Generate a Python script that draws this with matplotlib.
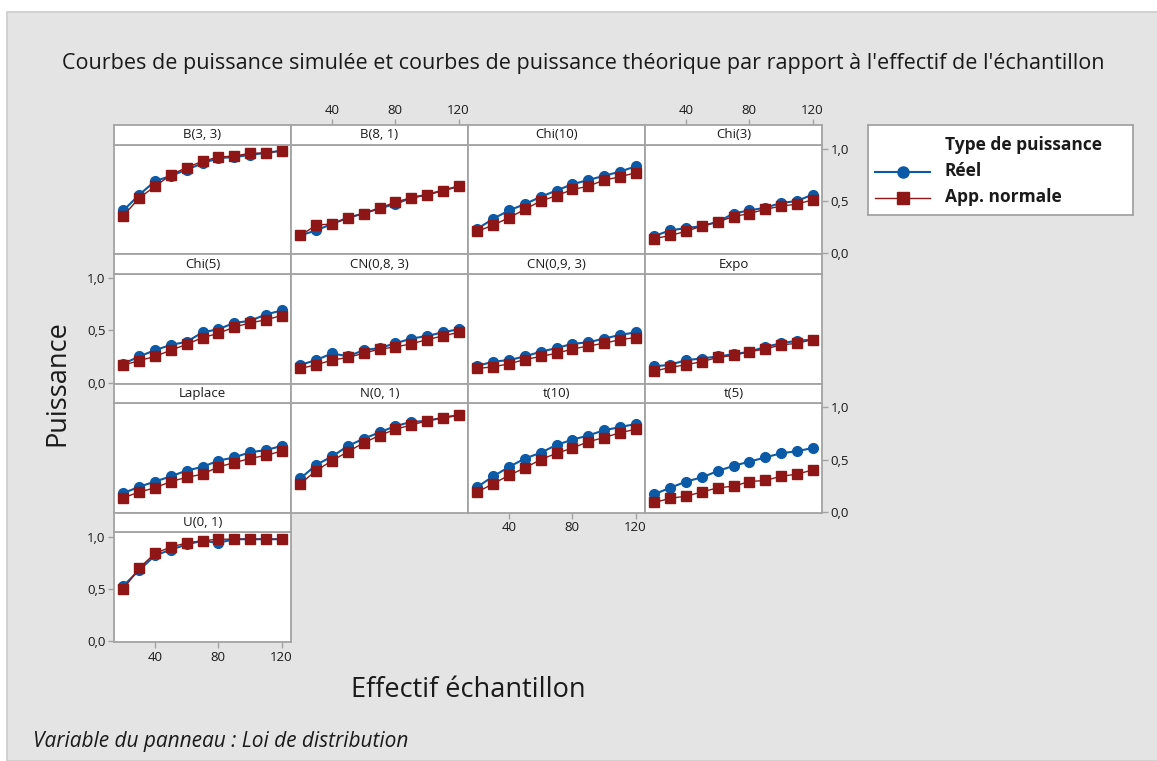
import matplotlib
matplotlib.use("Agg")
import matplotlib.pyplot as plt
from matplotlib.patches import Rectangle
from matplotlib.ticker import FuncFormatter

# sample sizes (effectif)
n = [20, 30, 40, 50, 60, 70, 80, 90, 100, 110, 120]

# power curves: simulated ("Réel") and normal approximation
b33_reel = [0.41, 0.56, 0.69, 0.74, 0.80, 0.86, 0.91, 0.92, 0.94, 0.96, 0.98]
b33_norm = [0.36, 0.53, 0.64, 0.75, 0.82, 0.88, 0.92, 0.93, 0.955, 0.96, 0.98]
b81_reel = [0.17, 0.22, 0.28, 0.34, 0.38, 0.43, 0.47, 0.53, 0.56, 0.60, 0.64]
b81_norm = [0.17, 0.27, 0.28, 0.34, 0.38, 0.43, 0.49, 0.53, 0.56, 0.60, 0.64]
chi10_reel = [0.235, 0.33, 0.41, 0.47, 0.54, 0.60, 0.66, 0.70, 0.74, 0.78, 0.83]
chi10_norm = [0.21, 0.27, 0.34, 0.42, 0.50, 0.55, 0.61, 0.64, 0.70, 0.73, 0.77]
chi3_reel = [0.165, 0.22, 0.24, 0.26, 0.30, 0.38, 0.41, 0.435, 0.48, 0.50, 0.56]
chi3_norm = [0.14, 0.17, 0.21, 0.26, 0.30, 0.35, 0.38, 0.42, 0.45, 0.47, 0.51]
chi5_reel = [0.18, 0.25, 0.31, 0.36, 0.39, 0.48, 0.51, 0.57, 0.59, 0.65, 0.69]
chi5_norm = [0.167, 0.21, 0.25, 0.31, 0.365, 0.43, 0.47, 0.53, 0.57, 0.60, 0.64]
cn83_reel = [0.17, 0.215, 0.28, 0.25, 0.31, 0.33, 0.375, 0.42, 0.445, 0.48, 0.51]
cn83_norm = [0.135, 0.17, 0.215, 0.24, 0.28, 0.32, 0.34, 0.37, 0.41, 0.445, 0.48]
cn93_reel = [0.16, 0.20, 0.215, 0.25, 0.295, 0.33, 0.37, 0.385, 0.42, 0.455, 0.48]
cn93_norm = [0.135, 0.15, 0.18, 0.22, 0.25, 0.28, 0.32, 0.35, 0.375, 0.41, 0.43]
expo_reel = [0.155, 0.17, 0.215, 0.23, 0.25, 0.27, 0.295, 0.34, 0.375, 0.40, 0.41]
expo_norm = [0.11, 0.145, 0.17, 0.20, 0.24, 0.26, 0.295, 0.32, 0.36, 0.375, 0.41]
lap_reel = [0.18, 0.24, 0.29, 0.34, 0.395, 0.43, 0.49, 0.52, 0.57, 0.59, 0.63]
lap_norm = [0.135, 0.19, 0.23, 0.29, 0.33, 0.36, 0.43, 0.47, 0.51, 0.54, 0.58]
n01_reel = [0.32, 0.45, 0.53, 0.63, 0.70, 0.76, 0.82, 0.86, 0.87, 0.90, 0.925]
n01_norm = [0.27, 0.395, 0.49, 0.575, 0.66, 0.73, 0.79, 0.83, 0.87, 0.90, 0.925]
t10_reel = [0.24, 0.34, 0.43, 0.51, 0.565, 0.64, 0.69, 0.73, 0.78, 0.81, 0.84]
t10_norm = [0.19, 0.27, 0.35, 0.42, 0.50, 0.56, 0.61, 0.67, 0.71, 0.755, 0.79]
t5_reel = [0.17, 0.23, 0.29, 0.33, 0.39, 0.44, 0.48, 0.52, 0.56, 0.58, 0.61]
t5_norm = [0.09, 0.13, 0.15, 0.19, 0.23, 0.245, 0.29, 0.30, 0.34, 0.36, 0.40]
u01_reel = [0.53, 0.68, 0.82, 0.875, 0.925, 0.96, 0.94, 0.975, 0.975, 0.975, 0.975]
u01_norm = [0.50, 0.70, 0.84, 0.90, 0.94, 0.96, 0.975, 0.975, 0.975, 0.975, 0.975]

names = ["B(3, 3)", "B(8, 1)", "Chi(10)", "Chi(3)", "Chi(5)", "CN(0,8, 3)",
         "CN(0,9, 3)", "Expo", "Laplace", "N(0, 1)", "t(10)", "t(5)", "U(0, 1)"]
reel = [b33_reel, b81_reel, chi10_reel, chi3_reel, chi5_reel, cn83_reel,
        cn93_reel, expo_reel, lap_reel, n01_reel, t10_reel, t5_reel, u01_reel]
norm = [b33_norm, b81_norm, chi10_norm, chi3_norm, chi5_norm, cn83_norm,
        cn93_norm, expo_norm, lap_norm, n01_norm, t10_norm, t5_norm, u01_norm]

x_ticks = [40, 80, 120]
y_ticks = [0.0, 0.5, 1.0]

BLUE = "#0b5aa8"
RED = "#8e1616"
GRID = "#a3a3a3"
TXT = "#1a1a1a"

plt.rcParams["font.family"] = ["Open Sans", "DejaVu Sans"]

W, H = 1157, 761
fig = plt.figure(figsize=(W / 100, H / 100), dpi=100, facecolor="white")


def px(left, top, w, h):
    return [left / W, 1 - (top + h) / H, w / W, h / H]


# grey window background
fig.patches.append(Rectangle((7 / W, 0), 1, 1 - 12 / H, transform=fig.transFigure,
                             facecolor="#e4e4e4", edgecolor="#cccccc", lw=1.2, zorder=-10))

comma = FuncFormatter(lambda v, p: f"{v:.1f}".replace(".", ","))

col_left, col_w = 114, 177
row_top, row_h, strip_h = 125, 129.3, 19.5

for i, name in enumerate(names):
    r, c = divmod(i, 4)
    left = col_left + c * col_w
    top = row_top + r * row_h
    ax = fig.add_axes(px(left, top + strip_h, col_w, row_h - strip_h))
    sx = fig.add_axes(px(left, top, col_w, strip_h))

    ax.plot(n, reel[i], color=BLUE, lw=1.5, marker="o", ms=7, zorder=3)
    ax.plot(n, norm[i], color=RED, lw=1.0, marker="s", ms=7.5, zorder=4)
    ax.set_xlim(14, 126)
    ax.set_ylim(-0.01, 1.04)

    sx.set_xlim(14, 126)
    sx.set_ylim(0, 1)
    sx.set_yticks([])
    sx.text(0.5, 0.5, name, transform=sx.transAxes, ha="center", va="center",
            fontsize=9.5, color=TXT)

    for a in (ax, sx):
        a.set_facecolor("white")
        for s in a.spines.values():
            s.set_color(GRID)
            s.set_linewidth(1.3)
        a.tick_params(length=4, width=1, color=GRID, labelsize=9.5, labelcolor=TXT, pad=2)

    ax.set_xticks([])
    ax.set_yticks([])
    sx.set_xticks([])

    # Minitab-style alternating axes
    if c == 0 and r in (1, 3):
        ax.set_yticks(y_ticks)
        ax.yaxis.set_major_formatter(comma)
    if c == 3 and r in (0, 2):
        ax.set_yticks(y_ticks)
        ax.yaxis.set_major_formatter(comma)
        ax.yaxis.tick_right()
    if r == 0 and c in (1, 3):
        sx.set_xticks(x_ticks)
        sx.xaxis.tick_top()
    if (r == 3 and c == 0) or (r == 2 and c == 2):
        ax.set_xticks(x_ticks)

fig.text(583 / W, 1 - 63 / H,
         "Courbes de puissance simulée et courbes de puissance théorique par rapport à l'effectif de l'échantillon",
         ha="center", va="center", fontsize=15.5, color=TXT)
fig.text(57 / W, 1 - 383 / H, "Puissance", rotation=90, ha="center", va="center",
         fontsize=19.5, color=TXT)
fig.text(468 / W, 1 - 690 / H, "Effectif échantillon", ha="center", va="center",
         fontsize=19.5, color=TXT)
fig.text(33 / W, 1 - 742 / H, "Variable du panneau : Loi de distribution", ha="left",
         va="center", fontsize=15, style="italic", color=TXT)

# legend box
lax = fig.add_axes(px(868, 125, 265, 90))
lax.set_xlim(0, 265)
lax.set_ylim(90, 0)
lax.set_xticks([])
lax.set_yticks([])
for s in lax.spines.values():
    s.set_color(GRID)
    s.set_linewidth(1.3)
lax.plot([7, 35, 62], [47, 47, 47], color=BLUE, lw=1.5, marker="o", ms=8, markevery=[1])
lax.plot([7, 35, 62], [73, 73, 73], color=RED, lw=1.0, marker="s", ms=8, markevery=[1])
lax.text(77, 20, "Type de puissance", ha="left", va="center", fontsize=12.5,
         fontweight="bold", color=TXT)
lax.text(77, 46, "Réel", ha="left", va="center", fontsize=12.5, fontweight="bold", color=TXT)
lax.text(77, 72, "App. normale", ha="left", va="center", fontsize=12.5,
         fontweight="bold", color=TXT)

fig.savefig("out.png", dpi=100, facecolor=fig.get_facecolor())
